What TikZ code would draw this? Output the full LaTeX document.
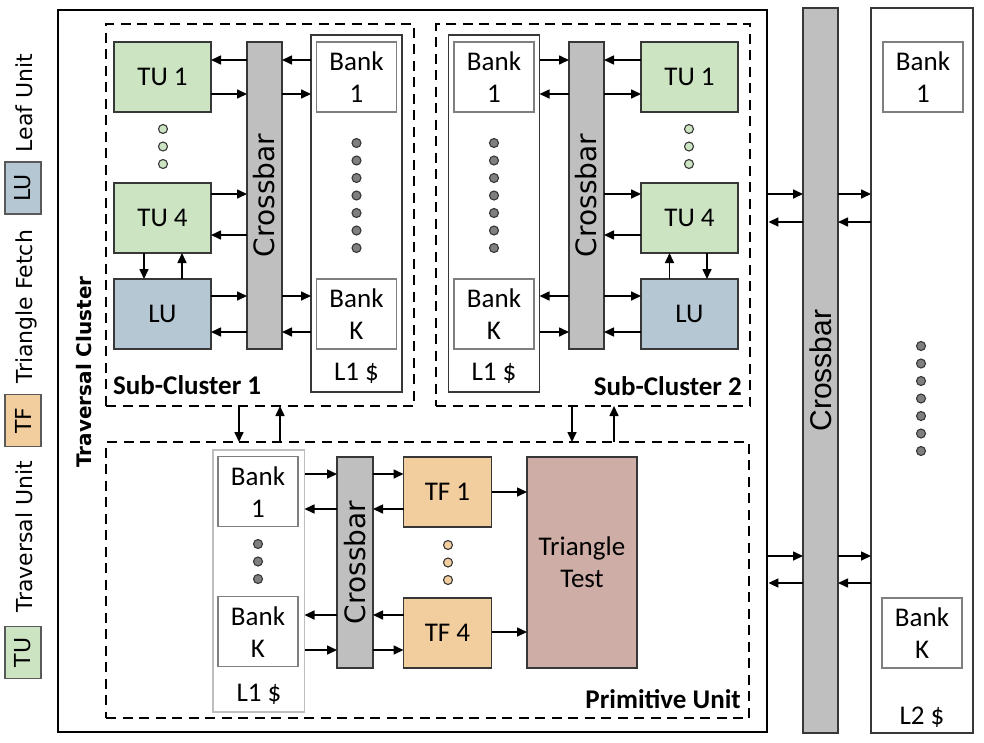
\documentclass[tikz,border=0pt]{standalone}
\usepackage{fontspec}
\setmainfont{Carlito}
\newfontfamily\verd{DejaVu Sans}
\newfontfamily\arialf{Liberation Sans}
\usetikzlibrary{arrows.meta}
\definecolor{tucol}{RGB}{204,228,193}
\definecolor{lucol}{RGB}{180,199,211}
\definecolor{tfcol}{RGB}{242,205,157}
\definecolor{ttcol}{RGB}{205,173,165}
\definecolor{xbcol}{RGB}{191,191,191}
\definecolor{dkline}{RGB}{55,55,55}
\definecolor{bkline}{RGB}{127,127,127}
\definecolor{ltline}{RGB}{190,190,190}
\definecolor{dotgray}{RGB}{127,127,127}
\begin{document}
\begin{tikzpicture}[x=1pt,y=-1pt,
  txtbase/.style={inner sep=0pt, outer sep=0pt, align=center, font=\fontsize{27}{32}\selectfont},
  unit/.style={txtbase, draw=dkline, line width=1.6pt, minimum width=97pt, minimum height=70pt},
  tubox/.style={unit, fill=tucol},
  lubox/.style={unit, fill=lucol},
  tfbox/.style={unit, fill=tfcol, minimum width=88pt},
  ttbox/.style={unit, fill=ttcol, minimum width=110pt, minimum height=211pt},
  bank/.style={txtbase, draw=bkline, line width=1.4pt, fill=white, minimum width=80pt, minimum height=70pt},
  cache/.style={draw=dkline, line width=1.4pt, fill=white, inner sep=0pt, outer sep=0pt},
  xbar/.style={draw=dkline, line width=1.4pt, fill=xbcol, inner sep=0pt, outer sep=0pt, minimum width=35pt},
  xbtext/.style={rotate=90, inner sep=0pt, font=\verd\fontsize{28}{30}\selectfont},
  region/.style={draw=black, line width=1.6pt, dash pattern=on 10pt off 6.5pt, inner sep=0pt, outer sep=0pt},
  arr/.style={-{Triangle[length=10pt,width=9pt]}, line width=1.6pt},
  lbl/.style={font=\fontsize{27}{32}\selectfont, anchor=base, inner sep=0pt},
  blbl/.style={font=\bfseries\fontsize{27}{32}\selectfont, inner sep=0pt},
  legbox/.style={draw=black!65, line width=1.5pt, rotate=90, minimum width=52pt, minimum height=36pt, inner sep=0pt, font=\verd\fontsize{22}{24}\selectfont},
  legtext/.style={rotate=90, anchor=base, inner sep=0pt, font=\verd\fontsize{22}{24}\selectfont},
  dotg/.style={draw=dkline, fill=tucol, line width=1.1pt},
  dotk/.style={draw=dkline, fill=dotgray, line width=1.1pt},
  doto/.style={draw=dkline, fill=tfcol, line width=1.1pt}
]
\useasboundingbox (0,0) rectangle (984,742);

% ---------- legend ----------
\node[legbox, fill=lucol] (lgLU) at (23,188) {LU};
\node[legtext] (lgLUt) at (32,103) {Leaf Unit};
\node[legbox, fill=tfcol] (lgTF) at (23,420.5) {TF};
\node[legtext] (lgTFt) at (32,306.5) {Triangle Fetch};
\node[legbox, fill=tucol] (lgTU) at (23,652.5) {TU};
\node[legtext] (lgTUt) at (32,536.5) {Traversal Unit};

% ---------- outer cluster ----------
\node[draw=black, line width=2.8pt, minimum width=709pt, minimum height=722pt, inner sep=0pt] (outer) at (412.5,371) {};
\node[rotate=90, anchor=base, inner sep=0pt, font=\verd\bfseries\fontsize{20}{22}\selectfont] (outert) at (91,372) {Traversal Cluster};

\node[region, minimum width=308pt, minimum height=382pt] (subA) at (260,215) {};
\node[region, minimum width=314pt, minimum height=382pt] (subB) at (593,215) {};
\node[region, minimum width=643pt, minimum height=276pt] (prim) at (427.5,580) {};

\node[blbl, anchor=base west] (subAt) at (113,394) {Sub-Cluster 1};
\node[blbl, anchor=base east] (subBt) at (742,395) {Sub-Cluster 2};
\node[blbl, anchor=base east] (primt) at (741,708) {Primitive Unit};

% ---------- Sub-Cluster 1 ----------
\node[tubox] (tuA1) at (162.5,77) {TU 1};
\node[tubox] (tuA4) at (162.5,218) {TU 4};
\node[lubox] (luA) at (162.5,314) {LU};
\node[xbar, minimum height=307pt] (xbA) at (264.5,195.5) {};
\node[xbtext] (xbAt) at (xbA) {Crossbar};
\node[cache, minimum width=91pt, minimum height=357pt] (l1A) at (356.5,213.5) {};
\node[bank] (bkA1) at (356.5,77) {Bank\\1};
\node[bank] (bkAK) at (356.5,314) {Bank\\K};
\node[lbl] (l1At) at (356.5,380) {L1 \$};
\foreach \k in {0,1,2} \draw[dotg] (163,129+17.5*\k) circle (4.5pt);
\foreach \k in {0,...,6} \draw[dotk] (356.5,143+17.5*\k) circle (4.5pt);

% ---------- Sub-Cluster 2 ----------
\node[cache, minimum width=91pt, minimum height=357pt] (l1B) at (494,213.5) {};
\node[bank] (bkB1) at (494,77) {Bank\\1};
\node[bank] (bkBK) at (494,314) {Bank\\K};
\node[lbl] (l1Bt) at (494,380) {L1 \$};
\node[xbar, minimum height=307pt] (xbB) at (586.5,195.5) {};
\node[xbtext] (xbBt) at (xbB) {Crossbar};
\node[tubox] (tuB1) at (689.5,77) {TU 1};
\node[tubox] (tuB4) at (689.5,218) {TU 4};
\node[lubox] (luB) at (689.5,314) {LU};
\foreach \k in {0,1,2} \draw[dotg] (689,129+17.5*\k) circle (4.5pt);
\foreach \k in {0,...,6} \draw[dotk] (494,143+17.5*\k) circle (4.5pt);

% ---------- Primitive Unit ----------
\node[cache, draw=ltline, line width=1.6pt, minimum width=91.5pt, minimum height=262pt] (l1P) at (258.75,581) {};
\node[bank] (bkP1) at (258,491.7) {Bank\\1};
\node[bank] (bkPK) at (258,631.7) {Bank\\K};
\node[lbl] (l1Pt) at (259,701) {L1 \$};
\foreach \k in {0,1,2} \draw[dotk] (258,544+17.5*\k) circle (4.5pt);
\node[xbar, minimum width=36pt, minimum height=211pt] (xbP) at (355,562.5) {};
\node[xbtext] (xbPt) at (xbP) {Crossbar};
\node[tfbox] (tfP1) at (447.5,492) {TF 1};
\node[tfbox] (tfP4) at (447.5,632.7) {TF 4};
\foreach \k in {0,1,2} \draw[doto] (448,545+17.5*\k) circle (4.5pt);
\node[ttbox] (tt) at (582,562.5) {Triangle\\Test};

% ---------- global crossbar and L2 ----------
\node[xbar, minimum height=725pt] (gxb) at (820.5,370.5) {};
\node[rotate=90, inner sep=0pt, font=\arialf\fontsize{30}{32}\selectfont] (gxbt) at (gxb) {Crossbar};
\node[cache, minimum width=102pt, minimum height=725pt] (l2) at (922,370.5) {};
\node[bank] (bk21) at (923,77) {Bank\\1};
\node[bank] (bk2K) at (922,633) {Bank\\K};
\node[lbl] (l2t) at (922,724) {L2 \$};
\foreach \k in {0,...,6} \draw[dotk] (921,346+17.5*\k) circle (4.5pt);

% ---------- connectors: Sub-Cluster 1 ----------
\draw[arr] (xbA.west |- 0,60) -- (tuA1.east |- 0,60);
\draw[arr] (tuA1.east |- 0,94) -- (xbA.west |- 0,94);
\draw[arr] (l1A.west |- 0,60) -- (xbA.east |- 0,60);
\draw[arr] (xbA.east |- 0,94) -- (l1A.west |- 0,94);
\draw[arr] (tuA4.east |- 0,194) -- (xbA.west |- 0,194);
\draw[arr] (xbA.west |- 0,235) -- (tuA4.east |- 0,235);
\draw[arr] (luA.east |- 0,296) -- (xbA.west |- 0,296);
\draw[arr] (xbA.east |- 0,296) -- (l1A.west |- 0,296);
\draw[arr] (xbA.west |- 0,332) -- (luA.east |- 0,332);
\draw[arr] (l1A.west |- 0,332) -- (xbA.east |- 0,332);
\draw[arr] (tuA4.south -| 144,0) -- (luA.north -| 144,0);
\draw[arr] (luA.north -| 182,0) -- (tuA4.south -| 182,0);

% ---------- connectors: Sub-Cluster 2 ----------
\draw[arr] (l1B.east |- 0,60) -- (xbB.west |- 0,60);
\draw[arr] (xbB.west |- 0,94) -- (l1B.east |- 0,94);
\draw[arr] (tuB1.west |- 0,60) -- (xbB.east |- 0,60);
\draw[arr] (xbB.east |- 0,94) -- (tuB1.west |- 0,94);
\draw[arr] (xbB.east |- 0,194) -- (tuB4.west |- 0,194);
\draw[arr] (tuB4.west |- 0,235) -- (xbB.east |- 0,235);
\draw[arr] (xbB.west |- 0,296) -- (l1B.east |- 0,296);
\draw[arr] (xbB.east |- 0,296) -- (luB.west |- 0,296);
\draw[arr] (l1B.east |- 0,332) -- (xbB.west |- 0,332);
\draw[arr] (luB.west |- 0,332) -- (xbB.east |- 0,332);
\draw[arr] (luB.north -| 669.5,0) -- (tuB4.south -| 669.5,0);
\draw[arr] (tuB4.south -| 707,0) -- (luB.north -| 707,0);

% ---------- connectors: sub-clusters <-> primitive unit ----------
\draw[arr] (subA.south -| 239,0) -- (prim.north -| 239,0);
\draw[arr] (prim.north -| 280,0) -- (subA.south -| 280,0);
\draw[arr] (subB.south -| 572,0) -- (prim.north -| 572,0);
\draw[arr] (prim.north -| 614,0) -- (subB.south -| 614,0);

% ---------- connectors: Primitive Unit ----------
\draw[arr] (l1P.east |- 0,474) -- (xbP.west |- 0,474);
\draw[arr] (xbP.east |- 0,474) -- (tfP1.west |- 0,474);
\draw[arr] (xbP.west |- 0,509) -- (l1P.east |- 0,509);
\draw[arr] (tfP1.west |- 0,509) -- (xbP.east |- 0,509);
\draw[arr] (xbP.west |- 0,615) -- (l1P.east |- 0,615);
\draw[arr] (tfP4.west |- 0,615) -- (xbP.east |- 0,615);
\draw[arr] (l1P.east |- 0,650) -- (xbP.west |- 0,650);
\draw[arr] (xbP.east |- 0,650) -- (tfP4.west |- 0,650);
\draw[arr] (tfP1.east |- 0,492) -- (tt.west |- 0,492);
\draw[arr] (tfP4.east |- 0,632) -- (tt.west |- 0,632);

% ---------- connectors: global crossbar ----------
\draw[arr] (outer.east |- 0,194) -- (gxb.west |- 0,194);
\draw[arr] (gxb.east |- 0,194) -- (l2.west |- 0,194);
\draw[arr] (gxb.west |- 0,222) -- (outer.east |- 0,222);
\draw[arr] (l2.west |- 0,222) -- (gxb.east |- 0,222);
\draw[arr] (outer.east |- 0,556) -- (gxb.west |- 0,556);
\draw[arr] (gxb.east |- 0,556) -- (l2.west |- 0,556);
\draw[arr] (gxb.west |- 0,583) -- (outer.east |- 0,583);
\draw[arr] (l2.west |- 0,583) -- (gxb.east |- 0,583);
\end{tikzpicture}
\end{document}
